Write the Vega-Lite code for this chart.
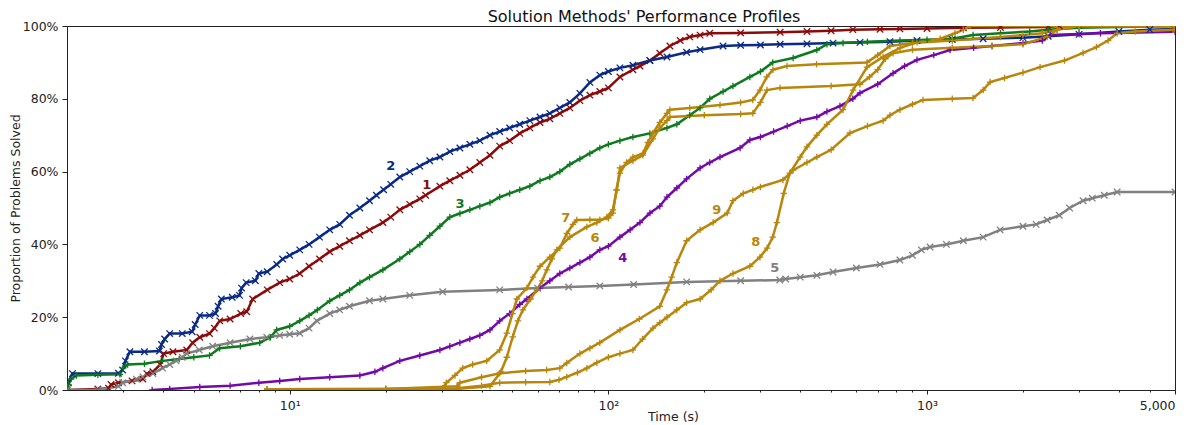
{
"$schema":"https://vega.github.io/schema/vega-lite/v6.json",
"width":1108,"height":364,
"autosize":{"type":"none"},
"padding":{"left":67,"top":26,"right":15,"bottom":35},
"config":{"font":"DejaVu Sans","view":{"stroke":"#222","strokeWidth":1},
"axis":{"grid":false,"domainColor":"#222","tickColor":"#222","labelColor":"#222","titleColor":"#222","labelFontSize":12.5,"titleFontSize":12.5,"titleFontWeight":"normal","labelFont":"DejaVu Sans","titleFont":"DejaVu Sans"}},
"title":{"text":"Solution Methods' Performance Profiles","fontSize":16,"fontWeight":"normal","color":"#111","offset":6,"frame":"group","anchor":"middle","dx":23,"dy":11,"font":"DejaVu Sans"},
"datasets":{
"labels":[{"s":"2","t":20.75,"p":0.615},{"s":"1","t":26.9,"p":0.563},{"s":"3","t":34.2,"p":0.511},{"s":"7","t":73.5,"p":0.473},{"s":"6","t":90.8,"p":0.418},{"s":"4","t":111,"p":0.363},{"s":"9","t":219,"p":0.495},{"s":"8","t":290,"p":0.407},{"s":"5","t":333,"p":0.335}],
"profiles":[
{"s":"1","t":2.0,"p":0},{"s":"1","t":2.5,"p":0.003},{"s":"1","t":2.7,"p":0.005},{"s":"1","t":2.75,"p":0.015},{"s":"1","t":2.9,"p":0.02},{"s":"1","t":3.2,"p":0.025},{"s":"1","t":3.46,"p":0.03},{"s":"1","t":3.56,"p":0.045},{"s":"1","t":3.72,"p":0.05},{"s":"1","t":3.92,"p":0.07},{"s":"1","t":4.02,"p":0.1},{"s":"1","t":4.3,"p":0.105},{"s":"1","t":4.75,"p":0.11},{"s":"1","t":4.96,"p":0.13},{"s":"1","t":5.22,"p":0.145},{"s":"1","t":5.6,"p":0.155},{"s":"1","t":5.8,"p":0.17},{"s":"1","t":6.03,"p":0.19},{"s":"1","t":6.5,"p":0.195},{"s":"1","t":7.02,"p":0.21},{"s":"1","t":7.33,"p":0.215},{"s":"1","t":7.65,"p":0.25},{"s":"1","t":8.5,"p":0.275},{"s":"1","t":9.3,"p":0.295},{"s":"1","t":10.0,"p":0.305},{"s":"1","t":10.75,"p":0.32},{"s":"1","t":11.5,"p":0.34},{"s":"1","t":12.4,"p":0.36},{"s":"1","t":13.35,"p":0.38},{"s":"1","t":14.35,"p":0.395},{"s":"1","t":15.4,"p":0.41},{"s":"1","t":16.6,"p":0.425},{"s":"1","t":17.8,"p":0.44},{"s":"1","t":19.6,"p":0.46},{"s":"1","t":20.75,"p":0.475},{"s":"1","t":22.15,"p":0.495},{"s":"1","t":23.8,"p":0.51},{"s":"1","t":25.6,"p":0.525},{"s":"1","t":26.7,"p":0.535},{"s":"1","t":29.6,"p":0.56},{"s":"1","t":31.8,"p":0.575},{"s":"1","t":34.2,"p":0.59},{"s":"1","t":36.75,"p":0.605},{"s":"1","t":39.5,"p":0.625},{"s":"1","t":42.5,"p":0.645},{"s":"1","t":45.6,"p":0.67},{"s":"1","t":49,"p":0.685},{"s":"1","t":52.7,"p":0.705},{"s":"1","t":56.7,"p":0.72},{"s":"1","t":61,"p":0.735},{"s":"1","t":65.5,"p":0.745},{"s":"1","t":70.4,"p":0.76},{"s":"1","t":75.7,"p":0.775},{"s":"1","t":81.4,"p":0.795},{"s":"1","t":87.5,"p":0.81},{"s":"1","t":94,"p":0.82},{"s":"1","t":100,"p":0.83},{"s":"1","t":108.7,"p":0.86},{"s":"1","t":119.4,"p":0.88},{"s":"1","t":125.6,"p":0.89},{"s":"1","t":135,"p":0.905},{"s":"1","t":145,"p":0.925},{"s":"1","t":156,"p":0.945},{"s":"1","t":168,"p":0.96},{"s":"1","t":180,"p":0.97},{"s":"1","t":194,"p":0.975},{"s":"1","t":208,"p":0.98},{"s":"1","t":260,"p":0.981},{"s":"1","t":346,"p":0.983},{"s":"1","t":420,"p":0.985},{"s":"1","t":500,"p":0.987},{"s":"1","t":585,"p":0.99},{"s":"1","t":712,"p":0.991},{"s":"1","t":822,"p":0.992},{"s":"1","t":1000,"p":0.993},{"s":"1","t":1300,"p":0.995},{"s":"1","t":1700,"p":0.996},{"s":"1","t":2400,"p":0.997},{"s":"1","t":2600,"p":1.0},{"s":"1","t":6000,"p":1.0},
{"s":"2","t":2.0,"p":0},{"s":"2","t":2.02,"p":0.02},{"s":"2","t":2.08,"p":0.045},{"s":"2","t":2.5,"p":0.045},{"s":"2","t":2.9,"p":0.046},{"s":"2","t":2.99,"p":0.055},{"s":"2","t":3.05,"p":0.08},{"s":"2","t":3.15,"p":0.105},{"s":"2","t":3.5,"p":0.105},{"s":"2","t":3.9,"p":0.107},{"s":"2","t":3.96,"p":0.125},{"s":"2","t":4.05,"p":0.14},{"s":"2","t":4.2,"p":0.155},{"s":"2","t":4.6,"p":0.155},{"s":"2","t":4.94,"p":0.16},{"s":"2","t":5.05,"p":0.18},{"s":"2","t":5.22,"p":0.205},{"s":"2","t":5.6,"p":0.205},{"s":"2","t":5.85,"p":0.21},{"s":"2","t":5.96,"p":0.23},{"s":"2","t":6.1,"p":0.25},{"s":"2","t":6.6,"p":0.255},{"s":"2","t":6.96,"p":0.26},{"s":"2","t":7.06,"p":0.28},{"s":"2","t":7.3,"p":0.295},{"s":"2","t":7.8,"p":0.3},{"s":"2","t":8.0,"p":0.32},{"s":"2","t":8.5,"p":0.325},{"s":"2","t":9.1,"p":0.345},{"s":"2","t":9.5,"p":0.36},{"s":"2","t":10.0,"p":0.37},{"s":"2","t":10.75,"p":0.385},{"s":"2","t":11.5,"p":0.4},{"s":"2","t":12.4,"p":0.42},{"s":"2","t":13.35,"p":0.44},{"s":"2","t":14.35,"p":0.455},{"s":"2","t":15.4,"p":0.48},{"s":"2","t":16.6,"p":0.5},{"s":"2","t":17.8,"p":0.52},{"s":"2","t":18.7,"p":0.535},{"s":"2","t":19.7,"p":0.55},{"s":"2","t":20.75,"p":0.565},{"s":"2","t":22.15,"p":0.585},{"s":"2","t":23.8,"p":0.6},{"s":"2","t":25.6,"p":0.615},{"s":"2","t":27.5,"p":0.63},{"s":"2","t":29.6,"p":0.64},{"s":"2","t":31.8,"p":0.655},{"s":"2","t":34.2,"p":0.665},{"s":"2","t":36.75,"p":0.675},{"s":"2","t":39.5,"p":0.685},{"s":"2","t":42.5,"p":0.7},{"s":"2","t":45.6,"p":0.71},{"s":"2","t":49,"p":0.72},{"s":"2","t":52.7,"p":0.73},{"s":"2","t":56.7,"p":0.74},{"s":"2","t":61,"p":0.75},{"s":"2","t":65.5,"p":0.76},{"s":"2","t":70.4,"p":0.775},{"s":"2","t":75.7,"p":0.79},{"s":"2","t":81.4,"p":0.815},{"s":"2","t":87.5,"p":0.845},{"s":"2","t":94,"p":0.865},{"s":"2","t":100,"p":0.875},{"s":"2","t":108.7,"p":0.885},{"s":"2","t":119.4,"p":0.892},{"s":"2","t":135,"p":0.905},{"s":"2","t":152.7,"p":0.915},{"s":"2","t":176,"p":0.928},{"s":"2","t":194,"p":0.935},{"s":"2","t":229,"p":0.945},{"s":"2","t":260,"p":0.947},{"s":"2","t":300,"p":0.948},{"s":"2","t":346,"p":0.95},{"s":"2","t":420,"p":0.951},{"s":"2","t":507,"p":0.953},{"s":"2","t":616,"p":0.955},{"s":"2","t":765,"p":0.957},{"s":"2","t":930,"p":0.96},{"s":"2","t":1200,"p":0.963},{"s":"2","t":1500,"p":0.965},{"s":"2","t":2000,"p":0.968},{"s":"2","t":2400,"p":0.972},{"s":"2","t":3000,"p":0.977},{"s":"2","t":4000,"p":0.985},{"s":"2","t":5000,"p":0.99},{"s":"2","t":6000,"p":0.992},
{"s":"3","t":2.0,"p":0},{"s":"3","t":2.02,"p":0.015},{"s":"3","t":2.06,"p":0.03},{"s":"3","t":2.14,"p":0.04},{"s":"3","t":2.5,"p":0.042},{"s":"3","t":2.93,"p":0.043},{"s":"3","t":3.0,"p":0.06},{"s":"3","t":3.1,"p":0.07},{"s":"3","t":3.5,"p":0.072},{"s":"3","t":3.99,"p":0.08},{"s":"3","t":4.5,"p":0.085},{"s":"3","t":5.0,"p":0.09},{"s":"3","t":5.6,"p":0.095},{"s":"3","t":6.03,"p":0.115},{"s":"3","t":7.0,"p":0.12},{"s":"3","t":8.05,"p":0.13},{"s":"3","t":8.7,"p":0.145},{"s":"3","t":9.1,"p":0.165},{"s":"3","t":10.0,"p":0.175},{"s":"3","t":10.75,"p":0.19},{"s":"3","t":11.5,"p":0.205},{"s":"3","t":12.2,"p":0.22},{"s":"3","t":13.35,"p":0.245},{"s":"3","t":14.35,"p":0.26},{"s":"3","t":15.4,"p":0.275},{"s":"3","t":16.6,"p":0.295},{"s":"3","t":17.8,"p":0.31},{"s":"3","t":19.6,"p":0.33},{"s":"3","t":22.15,"p":0.36},{"s":"3","t":23.8,"p":0.38},{"s":"3","t":25.6,"p":0.4},{"s":"3","t":27.5,"p":0.425},{"s":"3","t":29.6,"p":0.45},{"s":"3","t":31.8,"p":0.475},{"s":"3","t":34.2,"p":0.485},{"s":"3","t":36.75,"p":0.495},{"s":"3","t":39.5,"p":0.505},{"s":"3","t":42.5,"p":0.515},{"s":"3","t":45.6,"p":0.53},{"s":"3","t":49,"p":0.54},{"s":"3","t":52.7,"p":0.55},{"s":"3","t":56.7,"p":0.56},{"s":"3","t":61,"p":0.575},{"s":"3","t":65.5,"p":0.585},{"s":"3","t":70.4,"p":0.6},{"s":"3","t":75.7,"p":0.62},{"s":"3","t":81.4,"p":0.635},{"s":"3","t":87.5,"p":0.65},{"s":"3","t":94,"p":0.665},{"s":"3","t":100,"p":0.675},{"s":"3","t":108.7,"p":0.685},{"s":"3","t":119.4,"p":0.695},{"s":"3","t":135,"p":0.705},{"s":"3","t":152.7,"p":0.72},{"s":"3","t":164,"p":0.73},{"s":"3","t":180,"p":0.755},{"s":"3","t":194,"p":0.775},{"s":"3","t":208,"p":0.8},{"s":"3","t":229,"p":0.82},{"s":"3","t":246,"p":0.835},{"s":"3","t":278,"p":0.86},{"s":"3","t":300,"p":0.875},{"s":"3","t":328,"p":0.9},{"s":"3","t":380,"p":0.912},{"s":"3","t":451,"p":0.934},{"s":"3","t":485,"p":0.95},{"s":"3","t":545,"p":0.953},{"s":"3","t":650,"p":0.957},{"s":"3","t":822,"p":0.96},{"s":"3","t":1000,"p":0.962},{"s":"3","t":1200,"p":0.965},{"s":"3","t":1394,"p":0.975},{"s":"3","t":1700,"p":0.98},{"s":"3","t":2100,"p":0.985},{"s":"3","t":2400,"p":0.99},{"s":"3","t":3000,"p":0.995},{"s":"3","t":6000,"p":1.0},
{"s":"4","t":3.7,"p":0},{"s":"4","t":4.2,"p":0.003},{"s":"4","t":5.22,"p":0.008},{"s":"4","t":6.5,"p":0.012},{"s":"4","t":8.0,"p":0.02},{"s":"4","t":9.3,"p":0.025},{"s":"4","t":10.75,"p":0.03},{"s":"4","t":13.35,"p":0.035},{"s":"4","t":16.6,"p":0.04},{"s":"4","t":18.5,"p":0.05},{"s":"4","t":19.6,"p":0.06},{"s":"4","t":22.15,"p":0.08},{"s":"4","t":25.6,"p":0.095},{"s":"4","t":29.6,"p":0.11},{"s":"4","t":31.8,"p":0.12},{"s":"4","t":34.2,"p":0.13},{"s":"4","t":36.75,"p":0.14},{"s":"4","t":39.5,"p":0.15},{"s":"4","t":42.5,"p":0.165},{"s":"4","t":45.6,"p":0.19},{"s":"4","t":49,"p":0.21},{"s":"4","t":52.7,"p":0.235},{"s":"4","t":55.5,"p":0.25},{"s":"4","t":61,"p":0.28},{"s":"4","t":65.5,"p":0.3},{"s":"4","t":70.4,"p":0.32},{"s":"4","t":75.7,"p":0.335},{"s":"4","t":81.4,"p":0.35},{"s":"4","t":87.5,"p":0.365},{"s":"4","t":94,"p":0.385},{"s":"4","t":100,"p":0.395},{"s":"4","t":108.7,"p":0.42},{"s":"4","t":117,"p":0.44},{"s":"4","t":125.6,"p":0.46},{"s":"4","t":135,"p":0.486},{"s":"4","t":145,"p":0.505},{"s":"4","t":152.7,"p":0.53},{"s":"4","t":164,"p":0.555},{"s":"4","t":176,"p":0.58},{"s":"4","t":194,"p":0.61},{"s":"4","t":208,"p":0.625},{"s":"4","t":224,"p":0.64},{"s":"4","t":259,"p":0.665},{"s":"4","t":278,"p":0.687},{"s":"4","t":300,"p":0.695},{"s":"4","t":330,"p":0.71},{"s":"4","t":364,"p":0.725},{"s":"4","t":400,"p":0.74},{"s":"4","t":451,"p":0.75},{"s":"4","t":485,"p":0.765},{"s":"4","t":533,"p":0.78},{"s":"4","t":585,"p":0.8},{"s":"4","t":616,"p":0.816},{"s":"4","t":700,"p":0.84},{"s":"4","t":782,"p":0.87},{"s":"4","t":850,"p":0.89},{"s":"4","t":930,"p":0.907},{"s":"4","t":1050,"p":0.92},{"s":"4","t":1181,"p":0.934},{"s":"4","t":1400,"p":0.94},{"s":"4","t":1600,"p":0.945},{"s":"4","t":2000,"p":0.953},{"s":"4","t":2300,"p":0.96},{"s":"4","t":2434,"p":0.975},{"s":"4","t":3000,"p":0.978},{"s":"4","t":3500,"p":0.98},{"s":"4","t":6000,"p":0.984},
{"s":"5","t":2.0,"p":0},{"s":"5","t":2.5,"p":0},{"s":"5","t":2.9,"p":0.01},{"s":"5","t":2.99,"p":0.02},{"s":"5","t":3.3,"p":0.03},{"s":"5","t":3.46,"p":0.036},{"s":"5","t":3.72,"p":0.045},{"s":"5","t":3.99,"p":0.06},{"s":"5","t":4.2,"p":0.07},{"s":"5","t":4.4,"p":0.08},{"s":"5","t":4.6,"p":0.09},{"s":"5","t":4.75,"p":0.1},{"s":"5","t":5.2,"p":0.11},{"s":"5","t":5.73,"p":0.12},{"s":"5","t":6.5,"p":0.13},{"s":"5","t":7.5,"p":0.14},{"s":"5","t":8.47,"p":0.145},{"s":"5","t":9.3,"p":0.15},{"s":"5","t":10.0,"p":0.153},{"s":"5","t":10.75,"p":0.156},{"s":"5","t":11.5,"p":0.17},{"s":"5","t":12.16,"p":0.19},{"s":"5","t":13.35,"p":0.21},{"s":"5","t":14.35,"p":0.22},{"s":"5","t":15.4,"p":0.23},{"s":"5","t":17.8,"p":0.245},{"s":"5","t":19.6,"p":0.25},{"s":"5","t":23.8,"p":0.26},{"s":"5","t":30.2,"p":0.27},{"s":"5","t":45.6,"p":0.275},{"s":"5","t":60,"p":0.28},{"s":"5","t":75,"p":0.283},{"s":"5","t":94,"p":0.286},{"s":"5","t":120,"p":0.29},{"s":"5","t":176,"p":0.297},{"s":"5","t":260,"p":0.3},{"s":"5","t":345,"p":0.302},{"s":"5","t":360,"p":0.305},{"s":"5","t":400,"p":0.31},{"s":"5","t":451,"p":0.315},{"s":"5","t":507,"p":0.324},{"s":"5","t":600,"p":0.335},{"s":"5","t":712,"p":0.345},{"s":"5","t":822,"p":0.357},{"s":"5","t":900,"p":0.37},{"s":"5","t":960,"p":0.385},{"s":"5","t":1022,"p":0.393},{"s":"5","t":1150,"p":0.4},{"s":"5","t":1300,"p":0.41},{"s":"5","t":1500,"p":0.42},{"s":"5","t":1695,"p":0.44},{"s":"5","t":2000,"p":0.45},{"s":"5","t":2200,"p":0.455},{"s":"5","t":2382,"p":0.467},{"s":"5","t":2600,"p":0.48},{"s":"5","t":2800,"p":0.5},{"s":"5","t":3088,"p":0.52},{"s":"5","t":3300,"p":0.527},{"s":"5","t":3600,"p":0.535},{"s":"5","t":3950,"p":0.544},{"s":"5","t":6000,"p":0.544},
{"s":"6","t":8.5,"p":0.002},{"s":"6","t":20,"p":0.002},{"s":"6","t":33.5,"p":0.003},{"s":"6","t":42.5,"p":0.01},{"s":"6","t":46,"p":0.05},{"s":"6","t":48,"p":0.09},{"s":"6","t":50.1,"p":0.146},{"s":"6","t":52,"p":0.19},{"s":"6","t":53.9,"p":0.22},{"s":"6","t":57,"p":0.25},{"s":"6","t":59.6,"p":0.275},{"s":"6","t":62,"p":0.3},{"s":"6","t":64.1,"p":0.33},{"s":"6","t":66.5,"p":0.36},{"s":"6","t":68.9,"p":0.385},{"s":"6","t":75.7,"p":0.42},{"s":"6","t":85.6,"p":0.448},{"s":"6","t":92,"p":0.46},{"s":"6","t":98.9,"p":0.475},{"s":"6","t":103.3,"p":0.495},{"s":"6","t":106.3,"p":0.55},{"s":"6","t":108.7,"p":0.61},{"s":"6","t":119.4,"p":0.63},{"s":"6","t":128.3,"p":0.645},{"s":"6","t":138,"p":0.69},{"s":"6","t":145,"p":0.72},{"s":"6","t":152.7,"p":0.74},{"s":"6","t":156,"p":0.75},{"s":"6","t":200,"p":0.755},{"s":"6","t":260,"p":0.758},{"s":"6","t":284,"p":0.76},{"s":"6","t":300,"p":0.79},{"s":"6","t":314.6,"p":0.824},{"s":"6","t":345.6,"p":0.83},{"s":"6","t":500,"p":0.835},{"s":"6","t":616,"p":0.84},{"s":"6","t":660,"p":0.86},{"s":"6","t":700,"p":0.88},{"s":"6","t":740,"p":0.91},{"s":"6","t":782,"p":0.925},{"s":"6","t":900,"p":0.935},{"s":"6","t":1200,"p":0.94},{"s":"6","t":1600,"p":0.945},{"s":"6","t":2000,"p":0.95},{"s":"6","t":2382,"p":0.97},{"s":"6","t":2560,"p":0.99},{"s":"6","t":3000,"p":1.0},{"s":"6","t":6000,"p":1.0},
{"s":"7","t":8.5,"p":0.002},{"s":"7","t":20,"p":0.003},{"s":"7","t":30.2,"p":0.005},{"s":"7","t":31,"p":0.02},{"s":"7","t":33,"p":0.04},{"s":"7","t":34.9,"p":0.06},{"s":"7","t":37.5,"p":0.07},{"s":"7","t":41.5,"p":0.08},{"s":"7","t":45.6,"p":0.11},{"s":"7","t":48,"p":0.156},{"s":"7","t":50,"p":0.21},{"s":"7","t":51.6,"p":0.25},{"s":"7","t":55.5,"p":0.28},{"s":"7","t":58,"p":0.31},{"s":"7","t":61,"p":0.34},{"s":"7","t":65.5,"p":0.365},{"s":"7","t":70.4,"p":0.39},{"s":"7","t":74.1,"p":0.43},{"s":"7","t":77.4,"p":0.455},{"s":"7","t":79.6,"p":0.467},{"s":"7","t":87.5,"p":0.468},{"s":"7","t":94,"p":0.468},{"s":"7","t":100,"p":0.472},{"s":"7","t":103.3,"p":0.486},{"s":"7","t":106,"p":0.55},{"s":"7","t":108.7,"p":0.596},{"s":"7","t":114,"p":0.625},{"s":"7","t":119.4,"p":0.64},{"s":"7","t":128.3,"p":0.65},{"s":"7","t":133,"p":0.68},{"s":"7","t":138,"p":0.706},{"s":"7","t":145,"p":0.735},{"s":"7","t":152.7,"p":0.76},{"s":"7","t":156,"p":0.77},{"s":"7","t":180,"p":0.775},{"s":"7","t":224,"p":0.783},{"s":"7","t":260,"p":0.79},{"s":"7","t":284,"p":0.797},{"s":"7","t":299,"p":0.824},{"s":"7","t":314,"p":0.86},{"s":"7","t":328.5,"p":0.88},{"s":"7","t":363.6,"p":0.89},{"s":"7","t":450,"p":0.895},{"s":"7","t":648,"p":0.9},{"s":"7","t":700,"p":0.92},{"s":"7","t":765,"p":0.945},{"s":"7","t":900,"p":0.953},{"s":"7","t":1200,"p":0.96},{"s":"7","t":1700,"p":0.97},{"s":"7","t":2000,"p":0.975},{"s":"7","t":2300,"p":0.98},{"s":"7","t":2560,"p":0.99},{"s":"7","t":3000,"p":1.0},{"s":"7","t":6000,"p":1.0},
{"s":"8","t":8.5,"p":0.002},{"s":"8","t":20,"p":0.003},{"s":"8","t":33.5,"p":0.005},{"s":"8","t":40,"p":0.012},{"s":"8","t":45.6,"p":0.02},{"s":"8","t":55,"p":0.021},{"s":"8","t":65.5,"p":0.022},{"s":"8","t":70,"p":0.028},{"s":"8","t":74,"p":0.036},{"s":"8","t":80,"p":0.048},{"s":"8","t":85.6,"p":0.06},{"s":"8","t":92,"p":0.075},{"s":"8","t":100,"p":0.09},{"s":"8","t":108.7,"p":0.1},{"s":"8","t":119.4,"p":0.11},{"s":"8","t":128,"p":0.14},{"s":"8","t":138,"p":0.17},{"s":"8","t":145,"p":0.185},{"s":"8","t":152.7,"p":0.2},{"s":"8","t":164,"p":0.22},{"s":"8","t":176,"p":0.24},{"s":"8","t":194,"p":0.25},{"s":"8","t":210,"p":0.275},{"s":"8","t":224,"p":0.3},{"s":"8","t":246,"p":0.32},{"s":"8","t":278,"p":0.34},{"s":"8","t":299,"p":0.365},{"s":"8","t":315,"p":0.39},{"s":"8","t":328,"p":0.42},{"s":"8","t":338,"p":0.46},{"s":"8","t":355,"p":0.54},{"s":"8","t":371,"p":0.596},{"s":"8","t":400,"p":0.64},{"s":"8","t":420,"p":0.668},{"s":"8","t":451,"p":0.7},{"s":"8","t":485,"p":0.73},{"s":"8","t":545,"p":0.77},{"s":"8","t":586,"p":0.824},{"s":"8","t":648,"p":0.887},{"s":"8","t":728,"p":0.915},{"s":"8","t":823,"p":0.94},{"s":"8","t":930,"p":0.955},{"s":"8","t":1100,"p":0.965},{"s":"8","t":1224,"p":0.98},{"s":"8","t":1300,"p":0.99},{"s":"8","t":1365,"p":1.0},{"s":"8","t":6000,"p":1.0},
{"s":"9","t":8.5,"p":0.002},{"s":"9","t":20,"p":0.003},{"s":"9","t":33.5,"p":0.01},{"s":"9","t":34.2,"p":0.02},{"s":"9","t":40,"p":0.035},{"s":"9","t":45.6,"p":0.046},{"s":"9","t":55,"p":0.052},{"s":"9","t":64,"p":0.055},{"s":"9","t":70.4,"p":0.06},{"s":"9","t":74,"p":0.074},{"s":"9","t":81.4,"p":0.1},{"s":"9","t":87.5,"p":0.115},{"s":"9","t":94,"p":0.13},{"s":"9","t":108.7,"p":0.165},{"s":"9","t":125,"p":0.195},{"s":"9","t":145,"p":0.23},{"s":"9","t":152.7,"p":0.275},{"s":"9","t":158,"p":0.31},{"s":"9","t":164,"p":0.35},{"s":"9","t":176,"p":0.41},{"s":"9","t":194,"p":0.44},{"s":"9","t":213,"p":0.46},{"s":"9","t":236,"p":0.486},{"s":"9","t":246,"p":0.52},{"s":"9","t":265,"p":0.54},{"s":"9","t":284,"p":0.55},{"s":"9","t":300,"p":0.558},{"s":"9","t":353,"p":0.577},{"s":"9","t":380,"p":0.604},{"s":"9","t":420,"p":0.625},{"s":"9","t":451,"p":0.64},{"s":"9","t":500,"p":0.66},{"s":"9","t":573,"p":0.706},{"s":"9","t":650,"p":0.725},{"s":"9","t":728,"p":0.74},{"s":"9","t":765,"p":0.755},{"s":"9","t":822,"p":0.77},{"s":"9","t":900,"p":0.785},{"s":"9","t":971,"p":0.797},{"s":"9","t":1200,"p":0.8},{"s":"9","t":1394,"p":0.802},{"s":"9","t":1500,"p":0.824},{"s":"9","t":1577,"p":0.846},{"s":"9","t":1750,"p":0.857},{"s":"9","t":2000,"p":0.872},{"s":"9","t":2263,"p":0.887},{"s":"9","t":2700,"p":0.905},{"s":"9","t":3088,"p":0.926},{"s":"9","t":3400,"p":0.942},{"s":"9","t":3700,"p":0.96},{"s":"9","t":3950,"p":0.98},{"s":"9","t":4500,"p":0.985},{"s":"9","t":5920,"p":0.99},{"s":"9","t":6000,"p":0.99}
]},
"encoding":{
"x":{"field":"t","type":"quantitative","scale":{"type":"log","domain":[2,6000],"nice":false},
"axis":{"title":"Time (s)","titleX":606,"titleY":30,"titleBaseline":"alphabetic","titleAlign":"center","labelOverlap":false,"labelPadding":5,"labelBound":false,
"values":[3,4,5,6,7,8,9,10,20,30,40,50,60,70,80,90,100,200,300,400,500,600,700,800,900,1000,2000,3000,4000,5000,6000],
"labelExpr":"datum.value==10?'10¹':datum.value==100?'10²':datum.value==1000?'10³':datum.value==6000?'5,000':''",
"labelAlign":{"condition":{"test":"datum.value==6000","value":"right"},"value":"center"},
"tickSize":{"condition":{"test":"datum.value==10||datum.value==100||datum.value==1000||datum.value==6000","value":4},"value":2}}},
"y":{"field":"p","type":"quantitative","scale":{"domain":[0,1],"nice":false},
"axis":{"title":"Proportion of Problems Solved","values":[0,0.2,0.4,0.6,0.8,1],"format":".0%","tickSize":5,"labelPadding":4,"titleX":-52,"titleY":182,"titleAngle":-90,"titleAlign":"center","titleBaseline":"middle"}},
"color":{"field":"s","type":"nominal","legend":null,"scale":{"domain":["1","2","3","4","5","6","7","8","9"],"range":["#8b0a0a","#0a2a86","#0e7a1e","#7409a6","#808080","#b8860b","#b8860b","#b8860b","#b8860b"]}}
},
"layer":[
{"data":{"name":"profiles"},"mark":{"type":"line","clip":true},
"encoding":{"strokeWidth":{"field":"s","type":"nominal","legend":null,"scale":{"domain":["1","2","3","4","5","6","7","8","9"],"range":[2.5,2.5,2.5,2.5,2,3.5,3.5,3.5,3.5]}}}},
{"data":{"name":"profiles"},"mark":{"type":"point","filled":false,"strokeWidth":1.3,"size":42,"opacity":1,"clip":true},
"encoding":{"shape":{"field":"s","type":"nominal","legend":null,"scale":{"domain":["1","2","3","4","5","6","7","8","9"],"range":["M-1,-1L1,1M-1,1L1,-1","M-1,-1L1,1M-1,1L1,-1","M-1,0L1,0M0,-1L0,1","M-1,0L1,0M0,-1L0,1","M-1,-1L1,1M-1,1L1,-1","M-1,0L1,0M0,-1L0,1","M-1,0L1,0M0,-1L0,1","M-1,0L1,0M0,-1L0,1","M-1,0L1,0M0,-1L0,1"]}}}},
{"data":{"name":"labels"},"mark":{"type":"text","fontWeight":"bold","fontSize":13,"font":"DejaVu Sans"},"encoding":{"text":{"field":"s","type":"nominal"}}}
]
}
